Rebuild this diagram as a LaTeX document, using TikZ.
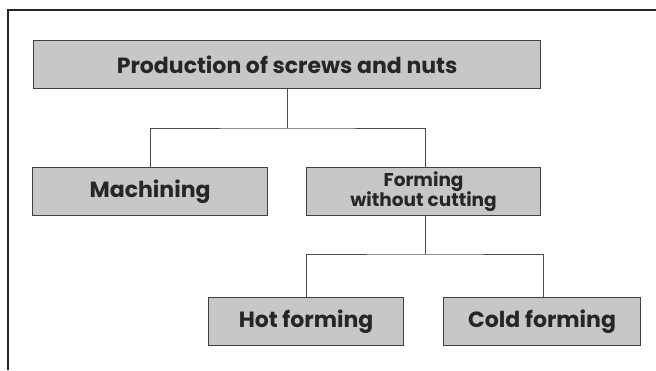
\documentclass[tikz,border=0pt]{standalone}
\usepackage{fontspec}
\setmainfont{Poppins}
\begin{document}
\begin{tikzpicture}[x=1pt,y=-1pt,
  boxstyle/.style={draw=black!75, line width=1.2pt, fill=black!22, minimum height=48pt, inner sep=0pt, font=\bfseries\fontsize{22}{24}\selectfont, text=black!85, align=center, anchor=north west},
  conn/.style={draw=black!70, line width=1pt}]
\useasboundingbox (0,0) rectangle (656,370);
\fill[white] (0,0) rectangle (656,370);
\draw[black!85, line width=1.2pt] (8,370) -- (8,10) -- (656,10);
\node[boxstyle, minimum width=507pt] (top) at (33,40) {Production of screws and nuts};
\node[boxstyle, minimum width=235pt] (mach) at (32,167) {Machining};
\node[boxstyle, minimum width=234pt, font=\bfseries\fontsize{18.5}{20}\selectfont] (form) at (306,167) {Forming\\without cutting};
\node[boxstyle, minimum width=195pt] (hot) at (208,297) {Hot forming};
\node[boxstyle, minimum width=197pt] (cold) at (443,297) {Cold forming};
\coordinate (j1) at (287,128);
\coordinate (j2) at (425,254);
\draw[conn] (top.south -| j1) -- (j1);
\draw[conn] (mach.north -| 150,0) |- (j1) -| (form.north -| 425,0);
\draw[conn] (form.south -| j2) -- (j2);
\draw[conn] (hot.north -| 306,0) |- (j2) -| (cold.north -| 543,0);
\end{tikzpicture}
\end{document}
